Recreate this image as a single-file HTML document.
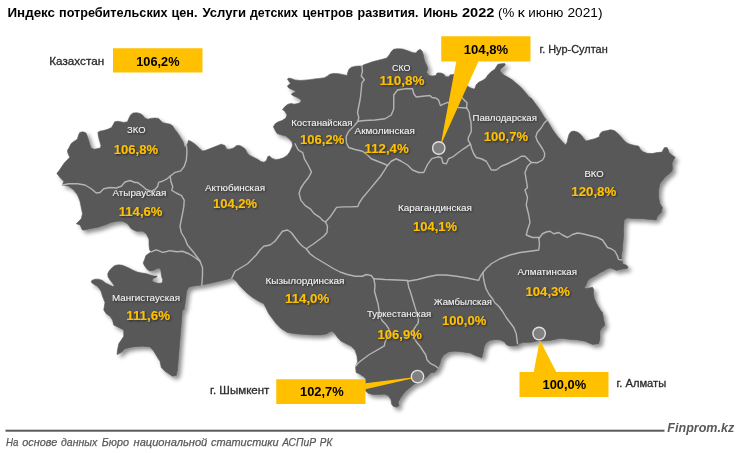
<!DOCTYPE html>
<html lang="ru"><head><meta charset="utf-8"><title>Индекс потребительских цен</title>
<style>html,body{margin:0;padding:0;background:#fff}svg{display:block}text{font-family:"Liberation Sans",sans-serif}</style></head><body>
<svg width="740" height="453" viewBox="0 0 740 453">
<defs><filter id="sh" x="-5%" y="-5%" width="112%" height="112%"><feGaussianBlur in="SourceAlpha" stdDeviation="2.2"/><feOffset dx="2.5" dy="2.5"/><feComponentTransfer><feFuncA type="linear" slope="0.45"/></feComponentTransfer><feMerge><feMergeNode/><feMergeNode in="SourceGraphic"/></feMerge></filter>
<filter id="ts" x="-10%" y="-30%" width="125%" height="170%"><feGaussianBlur in="SourceAlpha" stdDeviation="0.9"/><feOffset dx="1.2" dy="1.2"/><feComponentTransfer><feFuncA type="linear" slope="0.6"/></feComponentTransfer><feMerge><feMergeNode/><feMergeNode in="SourceGraphic"/></feMerge></filter></defs>
<rect width="740" height="453" fill="#fff"/>
<path filter="url(#sh)" fill="#595959" stroke="#595959" stroke-width="0.6" stroke-linejoin="round" d="M56.84 173.46 L59.32 170.35 L61.81 166.62 L64.3 162.89 L67.41 159.78 L69.89 157.3 L68.03 153.57 L67.41 150.46 L69.27 147.35 L71.14 143.62 L74.24 141.14 L77.35 139.27 L78.59 134.92 L79.84 132.43 L82.95 131.81 L86.05 133.05 L87.3 136.16 L88.54 139.89 L89.78 144.24 L91.03 147.97 L94.14 149.22 L97.86 148.59 L100.35 147.97 L100.97 145.49 L99.73 141.14 L98.49 136.78 L97.86 132.43 L99.73 131.19 L103.46 130.57 L107.81 129.32 L111.54 127.46 L113.41 124.35 L114.65 121.86 L117.76 121.24 L123.73 122.38 L127.46 121.76 L128.7 118.65 L130.57 114.92 L133.05 113.05 L136.78 112.68 L140.51 113.68 L143 115.54 L144.86 118.03 L147.97 119.27 L150.46 118.4 L154.81 118.03 L158.54 118.4 L160.41 120.51 L162.89 122.63 L166.62 123.62 L170.35 124.24 L172.84 126.11 L174.7 129.22 L177.19 132.32 L179.68 136.05 L181.54 139.16 L183.41 142.27 L184.03 145.38 L184.65 147.24 L186.51 146 L187.76 142.89 L188.38 140.41 L190.24 141.03 L193.35 142.89 L196.46 145.38 L199.57 148.49 L202.68 150.97 L205.78 150.35 L208.89 149.11 L212 147.86 L221.14 144.19 L224.86 145.43 L226.73 149.16 L229.84 149.16 L233.57 147.92 L236.68 145.43 L239.78 145.43 L242.89 147.3 L245.38 149.16 L247.24 152.89 L249.73 155.38 L253.46 157.24 L257.19 159.11 L260.92 161.59 L264.03 162.22 L266.51 160.35 L267.76 156.62 L269.62 156 L272.11 158.49 L275.84 159.73 L279.57 159.11 L283.3 157.86 L287.03 155.38 L289.51 152.27 L291.38 148.54 L292.62 145.43 L292 141.7 L288.89 138.59 L285.78 136.11 L280.81 134.86 L277.08 133.62 L275.22 130.51 L273.35 126.78 L275.22 123.68 L278.32 121.81 L282.05 120.57 L285.78 118.08 L287.03 114.97 L285.16 111.86 L283.3 110 L282.43 109.73 L284.92 106.62 L288.03 104.14 L291.14 103.51 L294.24 104.14 L297.97 103.51 L300.46 102.27 L301.08 100.41 L299.22 98.54 L296.73 97.3 L293.62 96.05 L291.14 94.19 L293 92.95 L295.49 91.7 L294.24 90.46 L291.14 89.22 L288.65 87.97 L287.41 86.11 L288.65 84.86 L290.51 83.62 L289.27 81.76 L287.41 79.27 L288.65 78.03 L291.76 78.65 L294.86 79.89 L299.84 80.51 L304.81 80.14 L309.78 79.64 L314.76 78.9 L319.73 78.4 L324.7 77.65 L327.19 76.16 L329.68 74.3 L333.41 73.43 L338.38 73.68 L343.35 74.67 L347.08 75.54 L347.7 72.43 L348.95 69.32 L351.43 67.21 L355.78 66.22 L359.51 65.97 L362 66.22 L363.73 64.86 L367.46 63.62 L372.43 61.76 L377.41 60.51 L382.38 59.27 L386.73 58.03 L389.22 54.92 L391.08 51.81 L393.57 49.32 L397.3 48.7 L402.27 48.95 L407.24 50.57 L412.22 52.43 L415.95 53.05 L417.81 50.57 L420.3 49.32 L422.16 51.19 L423.41 54.92 L424.03 58.65 L425.27 62.38 L427.14 66.11 L427.76 69.84 L426.51 72.32 L429 75.43 L432.11 76.05 L435.84 75.43 L437.08 72.95 L440.81 72.95 L443.92 74.19 L445.78 76.68 L448.89 76.68 L450.14 74.81 L452 74.81 L453.3 74.3 L456 76 L460 80 L464 84 L468 86.6 L470.8 88 L473.7 89 L474.89 88.57 L476.14 84.84 L478.62 82.35 L482.35 80.49 L485.46 78.62 L487.95 74.89 L491.05 71.78 L494.78 69.3 L496.65 66.19 L497.89 64.32 L501.62 63.7 L504.73 63.45 L505.35 64.95 L502.86 67.43 L500.38 69.3 L500.38 71.16 L502.24 73.65 L504.73 75.51 L508.46 77.38 L512.19 79.86 L515.92 82.97 L519.65 86.08 L522.76 89.19 L525.86 92.92 L528.97 96.65 L531.81 98.73 L534.92 103.08 L538.65 108.05 L541.76 113.03 L544.86 118 L547.97 121.73 L550.46 126.08 L553.57 131.05 L557.3 136.03 L561.65 141 L565.38 144.73 L566.99 142.86 L567.86 138.51 L569.11 134.16 L570.97 131.68 L574.08 131.05 L577.81 132.3 L580.92 134.78 L583.41 137.89 L585.89 141 L590 139.89 L594.97 138.65 L599.32 136.78 L599.95 133.68 L602.43 131.44 L607.41 130.57 L610.51 129.7 L614.24 130.57 L617.35 133.05 L620.46 136.16 L622.95 139.27 L626.05 142.38 L629.78 144.24 L634.76 145.49 L638.49 146.11 L640.35 149.22 L642.84 151.7 L647.19 153.32 L652.16 153.57 L657.14 152.57 L662.11 152.08 L663.35 149.22 L664.59 147.6 L667.08 147.6 L668.32 149.84 L668.95 152.32 L671.43 154.81 L675.16 157.3 L673.3 160.41 L672.05 163.51 L672.68 167.86 L672.05 170.97 L669.57 173.46 L666.46 175.95 L663.75 178.75 L660 183.75 L658.75 190 L658.75 197.5 L660 203.75 L662.5 207.5 L661.25 212.5 L657.5 216.25 L656.25 220 L650 219.5 L642.5 218.75 L635 218.75 L627.5 218 L624.25 220 L623.75 227.5 L623.75 235 L623 242.5 L622.5 250 L621.54 255 L621.91 259.97 L622.78 263.7 L625.89 264.95 L628.13 266.81 L627.14 268.68 L623.41 268.92 L619.68 269.67 L616.57 270.54 L613.46 269.3 L610.35 268.05 L607.24 268.92 L603.51 271.16 L599.78 273.03 L596.05 275.51 L592.32 277.38 L589.22 279.24 L587.35 281.73 L586.36 284.84 L584.62 287.57 L585.49 288.57 L589.22 287.95 L592.57 287.32 L593.82 289.81 L593.57 293.54 L594.19 297.89 L596.05 302.24 L597.92 305.97 L599.78 309.08 L601.03 310.95 L602.5 312.5 L603.75 320 L605 325 L602.5 327.5 L600 331.25 L600 338.75 L598.75 343.75 L592.5 344.5 L585 341.25 L577.5 340 L570 339.5 L562 338.4 L558.3 338.7 L554.6 339.65 L549.6 340.5 L544.6 341.1 L540.9 340.9 L537.2 340.9 L533.4 342.1 L528.5 342.6 L523.5 342.6 L519.75 343.6 L517.9 345.5 L513.5 346.1 L509.8 346.1 L506.7 344.9 L504.2 341.8 L499.85 339.9 L494.9 339.65 L489.9 340.5 L486.2 343 L484.3 346.7 L483.1 353 L481.8 357.9 L475 355.4 L470 353 L462.5 352 L455 351.25 L448.75 352 L443.75 355 L441.25 358.75 L440 363.75 L437.5 368.75 L437 369.92 L434.51 372.41 L430.78 373.03 L428.3 375.51 L425.81 378 L422.08 380.49 L417.11 382.97 L413.38 384.84 L409.65 387.95 L405.92 391.05 L402.81 394.78 L400.32 398.51 L398.21 402.24 L399.08 405.35 L397.22 407.22 L393.49 406.59 L391.62 404.11 L391 399.76 L388.51 396.03 L384.78 394.16 L379.81 394.54 L373.59 394.78 L368.62 393.54 L365.51 391.05 L365.51 378.62 L363.65 376.76 L359.92 374.27 L356.19 372.41 L355.57 367.43 L356.25 366.25 L357.5 361.25 L357 356.25 L355 350 L351.25 346.25 L346.25 343.75 L341.25 341.25 L337.5 337.5 L335 333.75 L332 331.25 L328.75 332.5 L327.5 333.75 L321.25 335 L312.5 335 L303.75 334.5 L295 333.75 L287.5 332.5 L281.25 328.75 L276.25 323.75 L272.5 318.75 L268.75 313.75 L266.25 308.75 L263.75 303.75 L258.75 301.25 L252.5 297.5 L246.25 292.5 L240 286.25 L236.24 281.22 L231.82 278.04 L224.76 279.99 L215.92 282.11 L207.98 283.87 L201.79 285.11 L192.96 286.17 L188.55 287.4 L186.78 290.94 L185.54 300.65 L184.13 309.84 L182.5 310 L181.25 325 L180 340 L178.75 355 L177.5 370 L176.25 375.5 L172.5 376.25 L168.75 373.75 L165 371.25 L161.25 367.5 L160 361.25 L157.5 357.5 L153.75 351.25 L150 347 L142.5 346.25 L132.5 347 L125 348.75 L121.25 352.5 L117 354.5 L117.5 350 L118.75 343.75 L121.25 340 L123.75 336.25 L123.75 330 L118.75 327.5 L113.75 325 L112.5 320 L110 316.25 L106.25 313.75 L103.75 310 L105 302.5 L102.41 295.95 L101.16 291.59 L99.3 288.49 L96.81 286 L93.7 284.14 L91.22 282.27 L91.84 280.41 L94.95 279.16 L98.68 279.16 L102.41 280.41 L105.51 282.89 L109.24 284.76 L112.97 286.62 L114.22 285.38 L112.35 282.89 L109.86 279.78 L108 276.68 L107.75 273.57 L109.24 270.83 L111.73 267.97 L114.84 265.49 L118.57 264.86 L122.3 265.24 L126.03 266.73 L129.76 268.59 L133.49 270.46 L137.22 272.08 L141.57 272.95 L145.92 273.57 L149.65 274.81 L154 276.05 L157.11 276.05 L156.49 277.3 L153.38 278.54 L152.14 280.41 L154 282.27 L158.35 283.26 L162.08 282.89 L162.7 279.78 L161.46 276.05 L161.09 272.32 L160.59 269.22 L158.35 268.35 L155.86 269.22 L152.76 270.83 L149.65 271.08 L147.16 269.22 L144.68 266.11 L143.18 263 L144.68 259.27 L145.92 255.54 L148.41 253.68 L151.51 251.81 L149.65 249.95 L149.03 244.97 L149.03 240 L148.75 238.75 L146.25 233.75 L142.5 231.25 L136.25 231.25 L131.25 228.75 L127.5 223.75 L122.5 221.25 L117.5 221.25 L111.25 222.5 L105 225 L97.5 227.5 L90 228.75 L85 230 L82.5 230 L80 225 L76.25 223.75 L77.5 222.5 L81.25 218.75 L82.5 213.75 L81.25 207.5 L80 201.25 L77.5 195 L73.75 190 L68.75 186.25 L62.5 185 L63.75 181.25 L60 177.5 Z"/>
<g fill="none" stroke="#b4b4b4" stroke-width="1.4" stroke-linejoin="round" stroke-linecap="round">
<path d="M62.5 185 L68.75 183.75 L77.5 183.75 L85 185 L91.25 188.75 L96.25 193 L100 192.5 L103.75 188.75 L110 187.5 L116.25 188 L121.25 186.25 L125 182 L130 180.5 L135 182.5 L137.4 182.4 L141.8 185.6 L146.2 189.5 L151.5 191.2 L155.05 189.5 L157.7 186.3 L158.6 182.4 L163 181 L166.5 179.2 L170.1 176.2"/>
<path d="M186.5 146 L186.85 149.7 L186.85 154.1 L186.3 160.3 L184.2 166.5 L180.7 170.9 L174.5 172.7 L170.1 176.2"/>
<path d="M170.1 176.2 L170.95 181.5 L172.7 186.8 L171.8 190.35 L176.25 193 L181.55 195.65 L184.2 200.1 L183.85 206.25 L182.8 212.4 L181.25 220 L180 226.25 L181.25 232.5 L185 238.75 L187.5 245 L193.75 252.5 L197.5 257.5 L200 261.25"/>
<path d="M151.51 251.81 L154 250.57 L156.49 249.95 L159.59 251.19 L162.7 252.43 L165.81 251.81 L169.54 250.57 L173.27 251.19 L177 251.81 L182.5 251.25 L188.75 253.75 L195 257.5 L200 261.25"/>
<path d="M200 261.25 L202.5 267.5 L202.5 275 L202 282.5 L201.75 285.25"/>
<path d="M295 143.75 L298.25 150 L302.7 152.65 L304.4 158.8 L308 165 L311.5 172.1 L308 178.3 L304.4 182.7 L300.9 188 L299.1 193.3 L300.9 200.35 L305.3 205.65 L310.6 209.2 L314.15 213.6 L319.45 217.1 L323 220.7 L325.5 222"/>
<path d="M361.86 66.11 L362.49 71.08 L361.24 76.05 L364.35 79.78 L361.86 82.89 L361.24 89.73 L360.62 95.95 L360 100 L358.75 106.25 L357.5 112.5 L358.75 117.5 L358 121.25"/>
<path d="M358 121.25 L353.75 126.25 L348.75 131.25 L346.25 136.25 L346.25 142.5 L348.75 147.5 L355 149.5 L362.5 151.25 L367.5 155 L371.25 158.75 L377.5 161.25 L383.75 163.75 L387.5 165.5"/>
<path d="M387.5 165.5 L383.9 171.2 L380.4 176.5 L376 181.8 L371.6 187.1 L367.2 192.4 L362.7 197.7 L359.2 203 L357.8 206.5 L350.4 206.9 L343.3 206.9 L336.6 207.4 L333.6 211.8 L330.05 217.1 L325.5 222"/>
<path d="M358 121.25 L365 120.5 L375 120 L385 118.75 L391.25 115 L393.75 108.75 L393.75 101.25 L393.75 95 L397.5 90 L405 88.75 L412.5 88.75 L413.75 93.75 L416.25 97 L422.5 96.25 L430 95.5 L431.9 97.5 L435.7 98 L438.5 99.9 L439.5 102.8 L440.4 105.6 L443.3 104.2 L447.6 102.3 L453 105 L458.5 107.5 L466.6 108"/>
<path d="M466.6 108 L467 102.8 L464.7 100.4 L462.3 98 L459.5 94"/>
<path d="M466.6 108 L468 110 L469.4 113 L469.6 117 L471 122 L471.3 131.5 L468.5 137.2 L468.1 140.1 L470.5 144.2"/>
<path d="M387.5 165.5 L391.25 161.25 L396.25 158.75 L401.25 161.25 L407.5 165 L412.5 170 L418.75 172.5 L423.75 172.5 L427.4 164.7 L431.8 158.55 L438 156.8 L441.5 157.7 L442.9 163 L446.45 163.85 L448.6 158.55 L453 156.8 L457.4 153.25 L463.6 148.8 L470.5 144.2"/>
<path d="M470.5 144.2 L471.75 148.75 L473.75 153.75 L476.25 157.5 L481.25 158.75 L486.25 161.25 L488.75 165.5 L491.25 170 L496.25 170 L501.25 166.25 L507.5 163.75 L512.5 161.25 L517.5 158.75 L521.25 156.25 L525 156.25 L528.75 160 L531.25 162.5"/>
<path d="M531.25 162.5 L537.5 162.7 L542.5 160 L544.5 156.5 L544.6 153 L542.6 149 L539.9 144.75 L537.4 141 L535.8 136.7 L537.4 132.3 L541.1 128 L544.25 123 L546.7 120.5"/>
<path d="M531.25 162.5 L527.5 166.25 L525 172.5 L526.25 180 L527.5 187.5 L525 190 L527.5 197.5 L526.25 205 L528.75 215 L530 222.5 L527.5 230 L526.25 235 L532.5 237.5 L538.75 237.5"/>
<path d="M538.75 238.75 L542.5 233.75 L546.25 232 L550 231.25 L553.75 233.75 L558.75 232.5 L562.5 235 L567.5 237.5 L572.5 234.5 L577.5 233 L582.5 233.75 L587.5 235 L592.5 236.25 L597.5 237.5 L602.5 240 L605 243.75 L607.5 247.5 L611.25 248.75 L615 251.25 L617.5 256.25 L618.5 259.4 L621.6 260"/>
<path d="M538.75 237.5 L539.5 243.75 L538.75 250 L530 251.25 L520 252.5 L510 255 L500 258.75 L491.25 263.75 L488.75 266.25 L486.6 268 L483 272.4"/>
<path d="M407.5 281.25 L417.7 279.5 L428.3 276.8 L437.1 275.05 L445.9 275.05 L456.5 276.3 L467.1 278.05 L478.6 280.35 L480.4 276.3 L483 272.4"/>
<path d="M483 272.4 L483.4 277.7 L484.45 283 L486.2 289.2 L489.2 294.5 L492.5 298.7 L494.5 302.5 L498.75 306.25 L502.5 311.25 L506.25 317.5 L510 322.5 L513.75 327.5 L516.25 333.75 L517 340 L517.5 343.75"/>
<path d="M325.5 222 L327.5 226.25 L327 232.5 L323.75 236.25 L318.75 240 L313.75 243.75 L310 246.25 L306.25 248.75"/>
<path d="M306.25 248.75 L302.5 246.25 L298.75 242.5 L295 237.5 L291.25 232.5 L287.5 230 L282.5 231.25 L278.75 236.25 L275 241.25 L270 245 L263.75 246.25 L260 250 L256.25 255 L252.5 258.75 L247.5 263.75 L241.25 267.5 L235 271.25 L231.82 278.04"/>
<path d="M306.25 248.75 L310 253.75 L315 257.5 L321.25 261.25 L327.5 265 L333.75 268.75 L340 272 L347.5 274.5 L355 276.25 L362.5 276.25 L366.25 274.5 L371.25 275.5 L373.75 278.75"/>
<path d="M373.75 278.75 L385 279.5 L397.5 280 L407.5 280.5"/>
<path d="M373.75 278.75 L375 285 L374.5 291.25 L376.25 297.5 L378 303.75 L380 316.73 L382.49 321.08 L386.22 324.81 L388.7 328.54 L389.32 332.27 L387.46 337.24 L384.97 342.22 L384.35 345.95 L368.62 355 L363.65 358.73 L358.68 362.46 L355.57 366.19"/>
<path d="M407.5 280.5 L408.75 287.5 L409.84 290 L411.7 296.22 L413.57 302.43 L415.43 308.65 L417.3 314.86 L418.54 319.84 L417.92 323.57 L415.43 326.68 L413.57 329.78 L412.95 333.51 L414.19 338.49 L416.68 342.22 L419.78 345.95 L425.81 355 L427.05 359.97 L430.78 363.7 L435.76 366.19 L437.62 367.81"/>
</g>
<g font-size="13px" font-weight="bold" fill="#000">
<text x="7.5" y="17.2" textLength="47.5" lengthAdjust="spacingAndGlyphs">Индекс</text>
<text x="59" y="17.2" textLength="108.5" lengthAdjust="spacingAndGlyphs">потребительских</text>
<text x="171.5" y="17.2" textLength="26" lengthAdjust="spacingAndGlyphs">цен.</text>
<text x="202.5" y="17.2" textLength="43.5" lengthAdjust="spacingAndGlyphs">Услуги</text>
<text x="250" y="17.2" textLength="48" lengthAdjust="spacingAndGlyphs">детских</text>
<text x="302.5" y="17.2" textLength="50.5" lengthAdjust="spacingAndGlyphs">центров</text>
<text x="357.5" y="17.2" textLength="61" lengthAdjust="spacingAndGlyphs">развития.</text>
<text x="423.25" y="17.2" textLength="34.75" lengthAdjust="spacingAndGlyphs">Июнь</text>
<text x="462" y="17.2" textLength="32.5" lengthAdjust="spacingAndGlyphs">2022</text>
</g><g font-size="13px" fill="#000">
<text x="498" y="17.2" textLength="16.25" lengthAdjust="spacingAndGlyphs">(%</text>
<text x="517.5" y="17.2" textLength="7.3" lengthAdjust="spacingAndGlyphs">к</text>
<text x="528.25" y="17.2" textLength="35.25" lengthAdjust="spacingAndGlyphs">июню</text>
<text x="567.5" y="17.2" textLength="35" lengthAdjust="spacingAndGlyphs">2021)</text>
</g>
<rect x="113" y="48.25" width="89.5" height="24.25" fill="#ffc000"/>
<text x="49.3" y="64.8" font-size="11px" fill="#2b2b2b" stroke="#2b2b2b" stroke-width="0.3" textLength="54.8" lengthAdjust="spacingAndGlyphs">Казахстан</text>
<text x="136.25" y="65.75" font-size="13.3px" font-weight="bold" fill="#000" textLength="43.25" lengthAdjust="spacingAndGlyphs">106,2%</text>
<path fill="#ffc000" d="M441.25 36.25H530.5V61.5H478.4L440.5 145.7L456.3 61.5H441.25Z"/>
<text x="463.75" y="53.75" font-size="13.3px" font-weight="bold" fill="#000" textLength="44.5" lengthAdjust="spacingAndGlyphs">104,8%</text>
<text x="539.5" y="52.7" font-size="11px" fill="#2b2b2b" stroke="#2b2b2b" stroke-width="0.3" textLength="68.2" lengthAdjust="spacingAndGlyphs">г. Нур-Султан</text>
<path fill="#ffc000" d="M276.25 379.25H365.5V383.2L412 377.5L412 378.5L365.5 389.3V404.1H276.25Z"/>
<text x="300" y="396.25" font-size="13.3px" font-weight="bold" fill="#000" textLength="43.75" lengthAdjust="spacingAndGlyphs">102,7%</text>
<text x="210.1" y="394" font-size="11px" fill="#2b2b2b" stroke="#2b2b2b" stroke-width="0.3" textLength="59.3" lengthAdjust="spacingAndGlyphs">г. Шымкент</text>
<path fill="#ffc000" d="M519.5 372H533.75L539.5 341.2L540.5 341.2L556.25 372H608.5V397H519.5Z"/>
<text x="542.5" y="389.25" font-size="13.3px" font-weight="bold" fill="#000" textLength="43.75" lengthAdjust="spacingAndGlyphs">100,0%</text>
<text x="616.5" y="387.1" font-size="11px" fill="#2b2b2b" stroke="#2b2b2b" stroke-width="0.3" textLength="49.7" lengthAdjust="spacingAndGlyphs">г. Алматы</text>
<circle cx="438.75" cy="148" r="6.2" fill="#808080" stroke="#e0e0e0" stroke-width="1.4"/>
<circle cx="417.5" cy="376.6" r="6.2" fill="#808080" stroke="#e0e0e0" stroke-width="1.4"/>
<circle cx="539.1" cy="333.5" r="6.2" fill="#808080" stroke="#e0e0e0" stroke-width="1.4"/>
<g font-size="9.1px" fill="#f7f7f7" filter="url(#ts)">
<text x="127" y="132.5" textLength="18.5" lengthAdjust="spacingAndGlyphs">ЗКО</text>
<text x="112.5" y="196.25" textLength="53.75" lengthAdjust="spacingAndGlyphs">Атырауская</text>
<text x="205" y="190.5" textLength="60" lengthAdjust="spacingAndGlyphs">Актюбинская</text>
<text x="112" y="300.5" textLength="68" lengthAdjust="spacingAndGlyphs">Мангистауская</text>
<text x="291.25" y="126.25" textLength="61.25" lengthAdjust="spacingAndGlyphs">Костанайская</text>
<text x="354.5" y="133.75" textLength="60.5" lengthAdjust="spacingAndGlyphs">Акмолинская</text>
<text x="392" y="70.5" textLength="18.5" lengthAdjust="spacingAndGlyphs">СКО</text>
<text x="472.5" y="121.25" textLength="64.5" lengthAdjust="spacingAndGlyphs">Павлодарская</text>
<text x="584.5" y="176.75" textLength="19.25" lengthAdjust="spacingAndGlyphs">ВКО</text>
<text x="398" y="211.25" textLength="74" lengthAdjust="spacingAndGlyphs">Карагандинская</text>
<text x="265.5" y="284.25" textLength="79" lengthAdjust="spacingAndGlyphs">Кызылординская</text>
<text x="367" y="317.25" textLength="64.25" lengthAdjust="spacingAndGlyphs">Туркестанская</text>
<text x="433.75" y="305" textLength="58.25" lengthAdjust="spacingAndGlyphs">Жамбылская</text>
<text x="517.5" y="275" textLength="59.5" lengthAdjust="spacingAndGlyphs">Алматинская</text>
</g><g font-size="13.5px" font-weight="bold" fill="#ffc000" filter="url(#ts)">
<text x="113.75" y="153.75" textLength="44.25" lengthAdjust="spacingAndGlyphs">106,8%</text>
<text x="118.75" y="215.5" textLength="43.75" lengthAdjust="spacingAndGlyphs">114,6%</text>
<text x="213" y="208.25" textLength="44" lengthAdjust="spacingAndGlyphs">104,2%</text>
<text x="126.25" y="320" textLength="43.75" lengthAdjust="spacingAndGlyphs">111,6%</text>
<text x="300" y="143.75" textLength="44.25" lengthAdjust="spacingAndGlyphs">106,2%</text>
<text x="364.5" y="153" textLength="44.25" lengthAdjust="spacingAndGlyphs">112,4%</text>
<text x="379.5" y="85" textLength="45" lengthAdjust="spacingAndGlyphs">110,8%</text>
<text x="483.75" y="140.5" textLength="44.25" lengthAdjust="spacingAndGlyphs">100,7%</text>
<text x="571.25" y="195.75" textLength="45" lengthAdjust="spacingAndGlyphs">120,8%</text>
<text x="413" y="230.5" textLength="44" lengthAdjust="spacingAndGlyphs">104,1%</text>
<text x="285" y="303" textLength="44.25" lengthAdjust="spacingAndGlyphs">114,0%</text>
<text x="377.5" y="338.75" textLength="44.25" lengthAdjust="spacingAndGlyphs">106,9%</text>
<text x="442" y="324.5" textLength="44.25" lengthAdjust="spacingAndGlyphs">100,0%</text>
<text x="525.5" y="296.25" textLength="44.5" lengthAdjust="spacingAndGlyphs">104,3%</text>
</g>
<rect x="5.5" y="429.7" width="659" height="2" fill="#595959"/>
<text x="667.3" y="431.5" font-size="13.3px" font-weight="bold" font-style="italic" fill="#595959" textLength="67" lengthAdjust="spacingAndGlyphs">Finprom.kz</text>
<g font-size="11.4px" font-style="italic" fill="#595959" stroke="#595959" stroke-width="0.25">
<text x="6.05" y="445.7" textLength="12.45" lengthAdjust="spacingAndGlyphs">На</text>
<text x="22.3" y="445.7" textLength="34.95" lengthAdjust="spacingAndGlyphs">основе</text>
<text x="61.05" y="445.7" textLength="36.2" lengthAdjust="spacingAndGlyphs">данных</text>
<text x="101.8" y="445.7" textLength="27.2" lengthAdjust="spacingAndGlyphs">Бюро</text>
<text x="133.55" y="445.7" textLength="73.7" lengthAdjust="spacingAndGlyphs">национальной</text>
<text x="211.05" y="445.7" textLength="67.45" lengthAdjust="spacingAndGlyphs">статистики</text>
<text x="282.3" y="445.7" textLength="33.7" lengthAdjust="spacingAndGlyphs">АСПиР</text>
<text x="319.8" y="445.7" textLength="12.45" lengthAdjust="spacingAndGlyphs">РК</text>
</g>
</svg></body></html>
